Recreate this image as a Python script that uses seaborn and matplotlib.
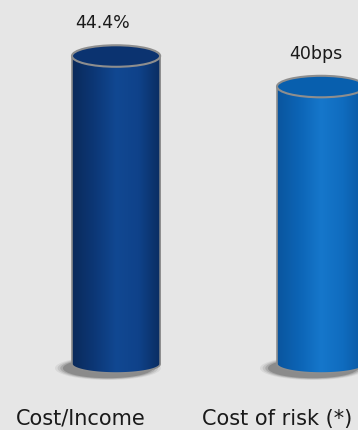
import numpy as np
import pandas as pd
import matplotlib
matplotlib.use("Agg")
import matplotlib.pyplot as plt
import seaborn as sns
from matplotlib.patches import Ellipse, PathPatch
from matplotlib.path import Path
from matplotlib.colors import LinearSegmentedColormap
import matplotlib.transforms as mtransforms

# ---- data ----
categories = ["Cost/Income", "Cost of risk (*)"]
values = [44.4, 40.0]
value_labels = ["44.4%", "40bps"]

# ---- style ----
body_stops = [
    ["#0a2a5a", "#0c3776", "#114892", "#0f428a", "#0a2c60"],
    ["#0a559e", "#0c64b5", "#1677cb", "#0f6cbf", "#0a56a0"],
]
top_colors = ["#0b3370", "#085fae"]
base_colors = ["#0d3c80", "#0d68ba"]
bg = "#e6e6e6"
rim = "#8e8e8e"

sns.set_theme(style="white")
plt.rcParams["font.family"] = ["DejaVu Sans"]

fig = plt.figure(figsize=(3.58, 4.31), dpi=100)
fig.patch.set_facecolor(bg)
ax = fig.add_axes([0, 0, 1, 1])
ax.set_facecolor(bg)

df = pd.DataFrame({"category": categories, "value": values})
sns.barplot(data=df, x="category", y="value", hue="category",
            palette=base_colors, legend=False, width=0.43, saturation=1,
            ax=ax)

XLIM = (-0.566, 1.180)
YLIM = (-9.51, 52.62)

top_h = 3.1     # top ellipse height (data units)
bot_hh = 1.3    # bottom half-height

bars = list(ax.patches)
for i, p in enumerate(bars):
    x0, w, h = p.get_x(), p.get_width(), p.get_height()
    x1 = x0 + w
    xc = x0 + w / 2
    p.set_zorder(1)
    p.set_edgecolor("none")

    # shadow
    for k, a in enumerate([0.06, 0.09, 0.13, 0.18]):
        s = 1 - k * 0.05
        ax.add_patch(Ellipse((xc - 0.04, -0.6), w * 1.2 * s, 3.4 * s,
                             facecolor="black", alpha=a, edgecolor="none",
                             zorder=0.5))

    # body path (rect + bottom half-ellipse)
    t = np.linspace(np.pi, 2 * np.pi, 60)
    pts = [(x0, h), (x0, 0)]
    pts += [(xc + w / 2 * np.cos(tt), bot_hh * np.sin(tt)) for tt in t]
    pts += [(x1, h), (x0, h)]
    codes = [Path.MOVETO] + [Path.LINETO] * (len(pts) - 2) + [Path.CLOSEPOLY]
    body = PathPatch(Path(pts, codes), facecolor="none", edgecolor=rim,
                     lw=1.2, zorder=3)
    ax.add_patch(body)

    cmap = LinearSegmentedColormap.from_list(f"b{i}", body_stops[i])
    grad = np.linspace(0, 1, 256).reshape(1, -1)
    im = ax.imshow(grad, cmap=cmap, extent=[x0, x1, -bot_hh, h],
                   aspect="auto", zorder=2, interpolation="bicubic")
    im.set_clip_path(body)

    # top ellipse
    ax.add_patch(Ellipse((xc, h), w, top_h, facecolor=top_colors[i],
                         edgecolor=rim, lw=1.5, zorder=4))

# value labels
val_dx = [-0.068, -0.027]
off = mtransforms.offset_copy(ax.transData, fig=fig, x=0, y=29, units="dots")
for i, (v, lab) in enumerate(zip(values, value_labels)):
    ax.text(i + val_dx[i], v, lab, transform=off, ha="center",
            va="baseline", fontsize=12.5, color="#1a1a1a")

# category labels
cat_dx = [-0.172, -0.214]
blend = mtransforms.blended_transform_factory(ax.transData, ax.transAxes)
for i, c in enumerate(categories):
    ax.text(i + cat_dx[i], 6 / 431, c, transform=blend, ha="center",
            va="baseline", fontsize=15, color="#1a1a1a")

ax.set_xlim(*XLIM)
ax.set_ylim(*YLIM)
ax.axis("off")

fig.savefig("out.png", dpi=100, facecolor=bg)
